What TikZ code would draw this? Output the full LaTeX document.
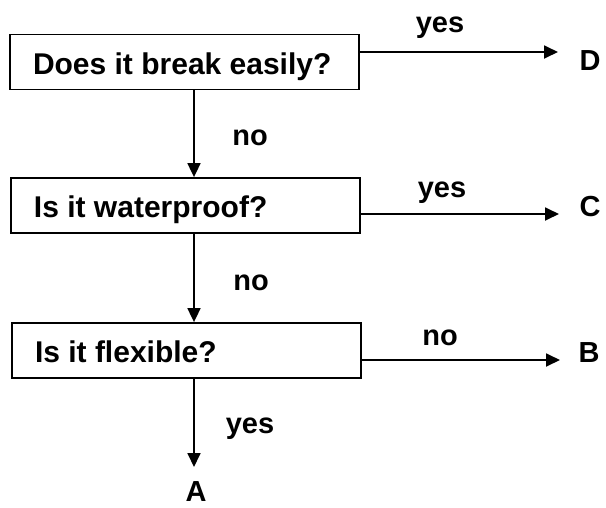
\documentclass[tikz,border=0pt]{standalone}
\usepackage{fontspec}
\setmainfont{Liberation Sans}
\usetikzlibrary{arrows.meta}
\newcommand{\boxtext}[1]{\makebox[303pt][l]{#1}}
\begin{document}
\begin{tikzpicture}[x=1pt,y=1pt,
  qbox/.style={draw, line width=1.8pt, minimum width=349pt, minimum height=55pt,
    inner xsep=23pt, inner ysep=0pt,
    text height=27pt, text depth=3pt, font=\fontsize{30}{33}\selectfont\bfseries},
  lbl/.style={anchor=base, inner sep=0pt, font=\fontsize{29}{32}\selectfont\bfseries},
  outc/.style={inner sep=0pt, font=\fontsize{29}{32}\selectfont\bfseries},
  arr/.style={line width=1.8pt, -{Triangle[length=14pt,width=13pt]}}]
\useasboundingbox (0,0) rectangle (606,-507);
% boxes
\node[qbox] (b1) at (184.5,-62) {\boxtext{Does it break easily?}};
\node[qbox] (b2) at (185.5,-205.5) {\boxtext{Is it waterproof?}};
\node[qbox] (b3) at (186.5,-350.5) {\boxtext{Is it flexible?}};
% outcomes
\node[outc] (D) at (590,-61) {D};
\node[outc] (C) at (590,-207) {C};
\node[outc] (B) at (589,-353) {B};
\node[outc] (A) at (196,-492) {A};
% arrow tips
\coordinate (tD) at (558,-52);
\coordinate (tC) at (559,-214);
\coordinate (tB) at (560,-360);
\coordinate (tA) at (194,-467);
% connectors
\draw[arr] (b1.east |- tD) -- (tD);
\draw[arr] (b2.east |- tC) -- (tC);
\draw[arr] (b3.east |- tB) -- (tB);
\draw[arr] (b1.south -| tA) -- (b2.north -| tA);
\draw[arr] (b2.south -| tA) -- (b3.north -| tA);
\draw[arr] (b3.south -| tA) -- (tA);
% labels
\node[lbl] (l1) at (440,-32) {yes};
\node[lbl] (l2) at (250,-145) {no};
\node[lbl] (l3) at (442,-197) {yes};
\node[lbl] (l4) at (251,-290) {no};
\node[lbl] (l5) at (440,-345) {no};
\node[lbl] (l6) at (250,-433) {yes};
\end{tikzpicture}
\end{document}
